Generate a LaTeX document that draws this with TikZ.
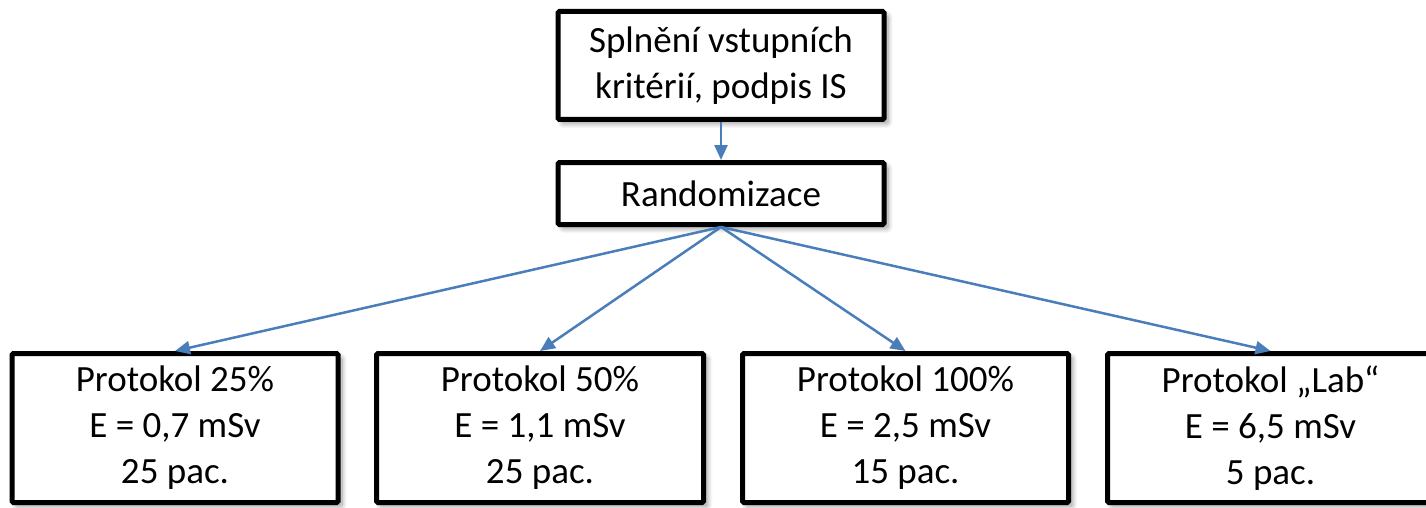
\documentclass[tikz,border=0pt]{standalone}
\usepackage{fontspec}
\setmainfont{Carlito}
\usetikzlibrary{shadows.blur,arrows.meta}
\definecolor{linkblue}{RGB}{74,126,187}
\begin{document}
\begin{tikzpicture}[x=1pt,y=-1pt,
  box/.style={draw=black, line width=5pt, fill=white, rounded corners=1.5pt,
    align=center, inner sep=0pt, font=\fontsize{37}{46}\selectfont,
    blur shadow={shadow xshift=4pt, shadow yshift=-4pt, shadow blur radius=5pt, shadow blur steps=10}},
  link/.style={draw=linkblue, line width=2.5pt, -{Triangle[length=15pt,width=13pt]}}]
\useasboundingbox (0,0) rectangle (1426,508);

% entry and randomisation steps
\node[box, minimum width=326pt, minimum height=108pt] (entry) at (721,65.5)
  {Splnění vstupních\\kritérií, podpis IS};
\node[box, minimum width=326pt, minimum height=62pt] (rand) at (721,193.5)
  {Randomizace};

% study arms
\node[box, minimum width=326pt, minimum height=149pt] (p25) at (175,428)
  {Protokol 25\%\\E = 0,7 mSv\\25 pac.};
\node[box, minimum width=327pt, minimum height=149pt] (p50) at (540,428)
  {Protokol 50\%\\E = 1,1 mSv\\25 pac.};
\node[box, minimum width=326pt, minimum height=149pt] (p100) at (905.5,428)
  {Protokol 100\%\\E = 2,5 mSv\\15 pac.};
\node[box, minimum width=326pt, minimum height=149pt] (plab) at (1270.5,428)
  {Protokol „Lab“\\E = 6,5 mSv\\5 pac.};

% connectors
\draw[link] (entry.south) -- (rand.north);
\draw[link] (rand.south) -- (p25.north);
\draw[link] (rand.south) -- (p50.north);
\draw[link] (rand.south) -- (p100.north);
\draw[link] (rand.south) -- (plab.north);
\end{tikzpicture}
\end{document}
